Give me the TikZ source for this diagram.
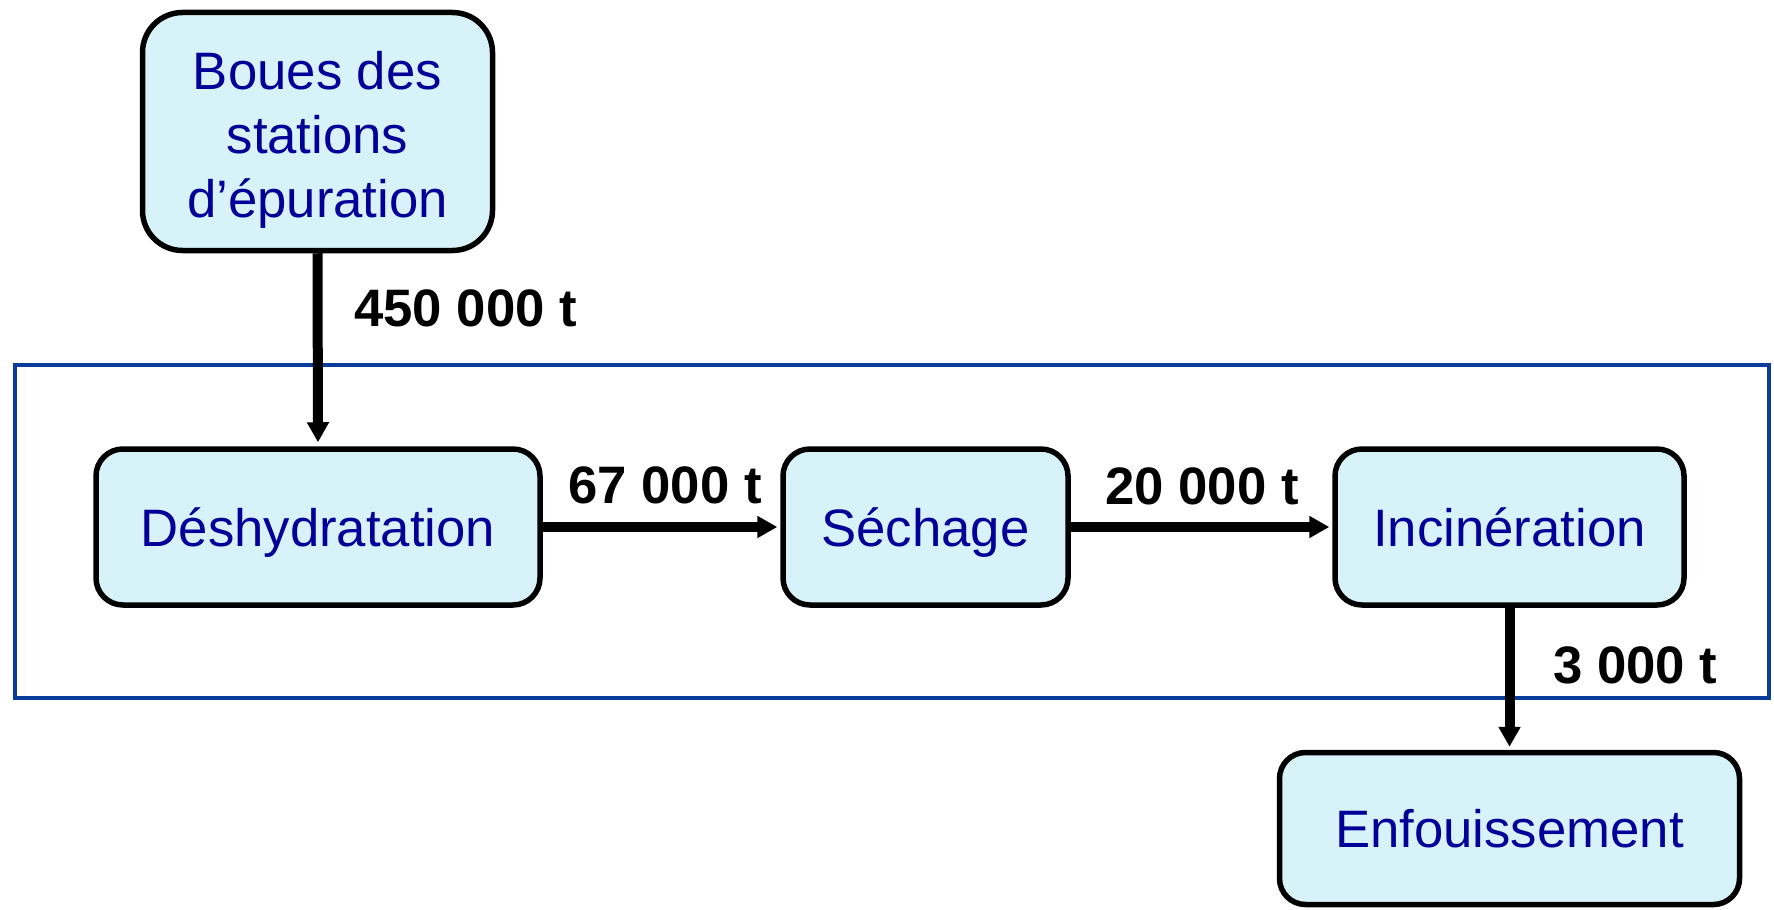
\documentclass[tikz,border=0pt]{standalone}
\usepackage{fontspec}
\setmainfont{Liberation Sans}
\usetikzlibrary{arrows.meta}
\definecolor{boxfill}{HTML}{D7F3F9}
\definecolor{boxtext}{HTML}{000099}
\definecolor{frameblue}{HTML}{0A3C9C}
\begin{document}
\begin{tikzpicture}[x=0.02cm,y=-0.02cm,
  procbox/.style={draw=black,line width=5.5*0.02cm,fill=boxfill,text=boxtext,
    rounded corners=#1,align=center,inner sep=0pt,
    font=\fontsize{30}{36.5}\selectfont},
  procbox/.default=0.54cm,
  oneline/.style={text height=1.0cm,text depth=0.24cm},
  flow/.style={line width=10*0.02cm,-{Triangle[width=0.42cm,length=0.40cm]}},
  qty/.style={font=\fontsize{30}{36}\selectfont\bfseries,inner sep=0pt}]
\useasboundingbox (0,0) rectangle (1774,909);
% frame
\draw[frameblue,line width=4*0.02cm] (15,365) rectangle (1769,698);
% boxes
\node[procbox=0.80cm,minimum width=350*0.02cm,minimum height=238*0.02cm] (boues) at (317.5,131.5)
  {\rule{0pt}{1.12cm}Boues des\\stations\\d’épuration\rule[-0.24cm]{0pt}{0pt}};
\node[procbox,oneline,minimum width=444*0.02cm,minimum height=156*0.02cm] (desh) at (318,527) {Déshydratation};
\node[procbox,oneline,minimum width=285*0.02cm,minimum height=156*0.02cm] (sech) at (925.5,527) {Séchage};
\node[procbox,oneline,minimum width=349*0.02cm,minimum height=156*0.02cm] (inc) at (1509.5,527) {Incinération};
\node[procbox=0.52cm,oneline,minimum width=460*0.02cm,minimum height=152*0.02cm] (enf) at (1509.5,828.5) {Enfouissement};
% flows
\draw[flow,shorten >=4*0.02cm] (boues.south) -- (desh.north);
\draw[flow,shorten >=3*0.02cm] (desh.east) -- (sech.west);
\draw[flow,shorten >=3*0.02cm] (sech.east) -- (inc.west);
\draw[flow,shorten >=3*0.02cm] (inc.south) -- (enf.north);
% quantities
\node[qty,anchor=west] (q1) at (354,308) {450 000 t};
\node[qty] (q2) at (665,485) {67 000 t};
\node[qty] (q3) at (1202,486) {20 000 t};
\node[qty] (q4) at (1635.5,665) {3 000 t};
\end{tikzpicture}
\end{document}
